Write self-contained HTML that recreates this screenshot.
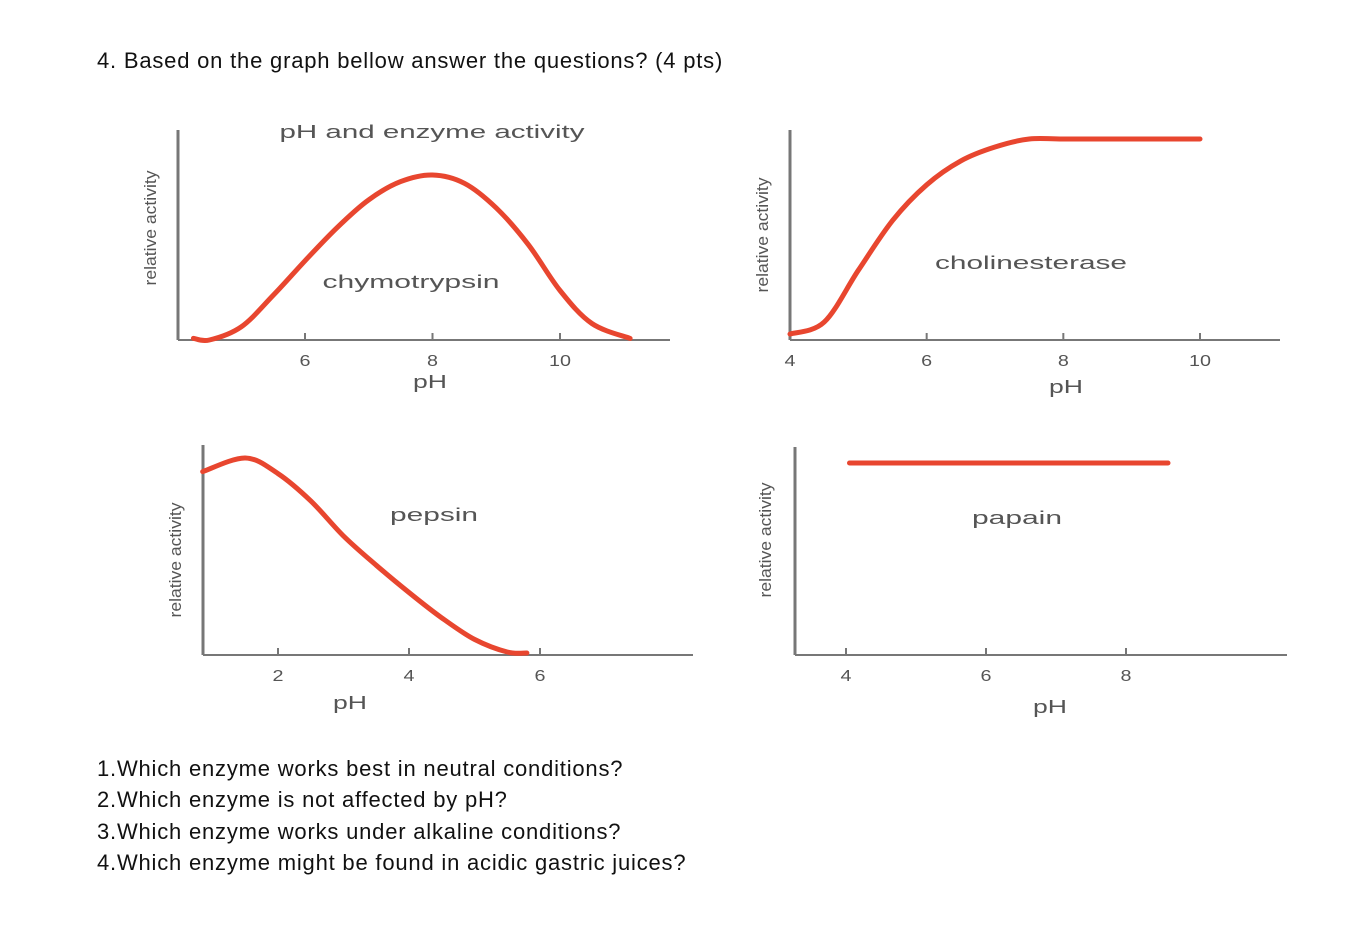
<!DOCTYPE html>
<html><head><meta charset="utf-8">
<style>
body{margin:0;background:#fff;width:1348px;height:932px;overflow:hidden;font-family:"Liberation Sans",sans-serif;}
.t{position:absolute;left:97px;font-family:"Liberation Sans",sans-serif;font-size:22px;letter-spacing:0.8px;color:#111;white-space:nowrap;}
svg{position:absolute;left:0;top:0;}
</style></head><body>
<div class="t" style="top:48px">4. Based on the graph bellow answer the questions? (4 pts)</div>
<svg id="c" width="1348" height="932"></svg>
<div class="t" style="top:756px">1.Which enzyme works best in neutral conditions?</div>
<div class="t" style="top:787px">2.Which enzyme is not affected by pH?</div>
<div class="t" style="top:819px">3.Which enzyme works under alkaline conditions?</div>
<div class="t" style="top:850px">4.Which enzyme might be found in acidic gastric juices?</div>
<script>
const chymoPH=[4.25,4.5,5,5.5,6,6.5,7,7.5,8,8.5,9,9.5,10,10.5,11.1];
const chymoAct=[0.01,0,0.08,0.27,0.48,0.68,0.85,0.96,1,0.95,0.8,0.58,0.3,0.1,0.01];
const cholPH=[4,4.5,5,5.5,6,6.5,7,7.5,8,9,10];
const cholAct=[0.02,0.08,0.34,0.59,0.77,0.89,0.96,1,1,1,1];
const pepPH=[0.85,1.5,2,2.5,3,3.5,4,4.5,5,5.5,5.8];
const pepAct=[0.93,1,0.92,0.78,0.6,0.45,0.31,0.18,0.07,0.005,0];
const papPH=[4.05,8.6];
const papAct=[1,1];
const ticks1=[6,8,10],ticks2=[4,6,8,10],ticks3=[2,4,6],ticks4=[4,6,8];
const NS="http://www.w3.org/2000/svg";
const svg=document.getElementById('c');
function mk(tag,attrs){const e=document.createElementNS(NS,tag);for(const k in attrs)e.setAttribute(k,attrs[k]);svg.appendChild(e);return e;}
function txt(x,y,s,size,len,rot){const e=mk('text',{x:x,y:y,'font-size':size,fill:'#555','text-anchor':'middle','font-family':'Liberation Sans, sans-serif'});if(len){e.setAttribute('textLength',len);e.setAttribute('lengthAdjust','spacingAndGlyphs');}if(rot)e.setAttribute('transform','rotate(-90 '+x+' '+y+')');e.textContent=s;return e;}
function smooth(P){let d='M'+P[0][0]+','+P[0][1];for(let i=0;i<P.length-1;i++){const p0=P[Math.max(i-1,0)],p1=P[i],p2=P[i+1],p3=P[Math.min(i+2,P.length-1)];
 const c1=[p1[0]+(p2[0]-p0[0])/6,p1[1]+(p2[1]-p0[1])/6],c2=[p2[0]-(p3[0]-p1[0])/6,p2[1]-(p3[1]-p1[1])/6];
 d+=' C'+c1.map(v=>v.toFixed(1))+' '+c2.map(v=>v.toFixed(1))+' '+p2[0].toFixed(1)+','+p2[1].toFixed(1);}return d;}
function chart(o){
  const sx=v=>o.x0+(v-o.p0)*(o.x1-o.x0)/(o.p1-o.p0);
  const sy=a=>o.y0+(o.yt-o.y0)*a;
  let e=mk('line',{x1:o.ax,y1:o.top,x2:o.ax,y2:o.axY,stroke:'#777','stroke-width':3});
  
  e=mk('line',{x1:o.ax,y1:o.axY,x2:o.right,y2:o.axY,stroke:'#777','stroke-width':2});
  
  o.ticks.forEach(t=>{const x=sx(t);
    e=mk('line',{x1:x,y1:o.axY-7,x2:x,y2:o.axY,stroke:'#777','stroke-width':2});
    
    e=txt(x,o.axY+26,String(t),16,String(t).length*11);
    });
  const P=o.px.map((p,i)=>[sx(p),sy(o.py[i])]);
  e=mk('path',{d:smooth(P),fill:'none',stroke:'#e8462f','stroke-width':5,'stroke-linejoin':'round','stroke-linecap':'round'});
  
  e=txt(o.lx,o.ly,o.label,18,o.ll);
  
  e=txt(o.phx,o.phy,'pH',18,34);
  
  e=txt(o.ylx,o.yly,'relative activity',17,115,true);
  
}
chart({name:'chymotrypsin',ax:178,top:130,axY:340,right:670,x0:305,x1:560,p0:6,p1:10,y0:340,yt:175,ticks:ticks1,px:chymoPH,py:chymoAct,label:'chymotrypsin',ll:177,lx:411,ly:288,phx:430,phy:388,ylx:156,yly:228});
chart({name:'cholinesterase',ax:790,top:130,axY:340,right:1280,x0:790,x1:1200,p0:4,p1:10,y0:338,yt:139,ticks:ticks2,px:cholPH,py:cholAct,label:'cholinesterase',ll:192,lx:1031,ly:269,phx:1066,phy:393,ylx:768,yly:235});
chart({name:'pepsin',ax:203,top:445,axY:655,right:693,x0:278,x1:540,p0:2,p1:6,y0:653,yt:458,ticks:ticks3,px:pepPH,py:pepAct,label:'pepsin',ll:88,lx:434,ly:521,phx:350,phy:709,ylx:181,yly:560});
chart({name:'papain',ax:795,top:447,axY:655,right:1287,x0:846,x1:1126,p0:4,p1:8,y0:653,yt:463,ticks:ticks4,px:papPH,py:papAct,label:'papain',ll:90,lx:1017,ly:524,phx:1050,phy:713,ylx:771,yly:540});
const h=mk('text',{x:432,y:138,'font-size':18,fill:'#555','text-anchor':'middle','font-family':'Liberation Sans, sans-serif',textLength:305,lengthAdjust:'spacingAndGlyphs'});
h.textContent='pH and enzyme activity';


</script>
</body></html>
